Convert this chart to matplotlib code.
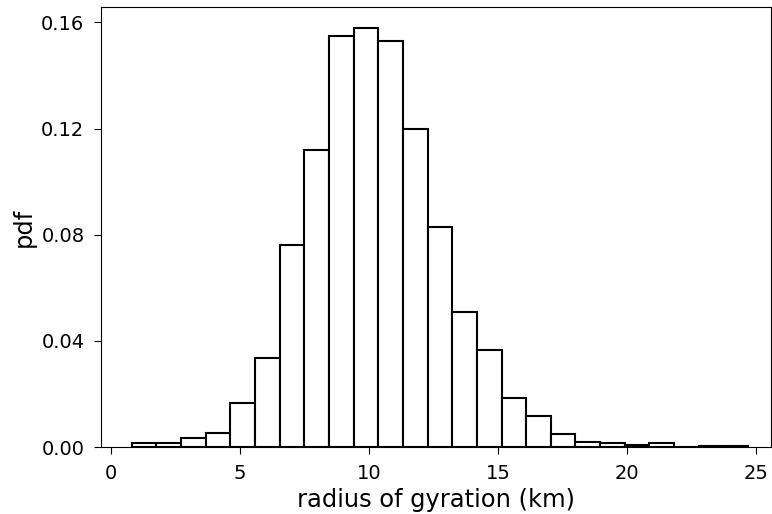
import numpy as np
import matplotlib.pyplot as plt

# histogram of radius of gyration
bin_start = 0.80
bin_width = 0.956
pdf = [0.0016, 0.0016, 0.0035, 0.0055, 0.0167, 0.0335, 0.076, 0.112,
       0.155, 0.158, 0.153, 0.120, 0.083, 0.051, 0.0365, 0.0185,
       0.0116, 0.0049, 0.0020, 0.0016, 0.0010, 0.0014, 0.0, 0.0005, 0.0005]

edges = bin_start + bin_width * np.arange(len(pdf) + 1)
centers = (edges[:-1] + edges[1:]) / 2

fig = plt.figure(figsize=(7.72, 5.14), dpi=100)
ax = fig.add_axes([0.131, 0.130, 0.868, 0.856])
ax.hist(centers, bins=edges, weights=pdf, facecolor='white',
        edgecolor='black', linewidth=1.5)

ax.set_xlim(-0.39, 25.6)
ax.set_ylim(0, 0.1657)
ax.set_xticks([0, 5, 10, 15, 20, 25])
ax.set_yticks([0.0, 0.04, 0.08, 0.12, 0.16])
ax.set_yticklabels(['0.00', '0.04', '0.08', '0.12', '0.16'])
ax.tick_params(labelsize=14, length=5, pad=7)
ax.set_xlabel('radius of gyration (km)', fontsize=17.4)
ax.set_ylabel('pdf', fontsize=17.4)

fig.savefig('out.png', dpi=100)
